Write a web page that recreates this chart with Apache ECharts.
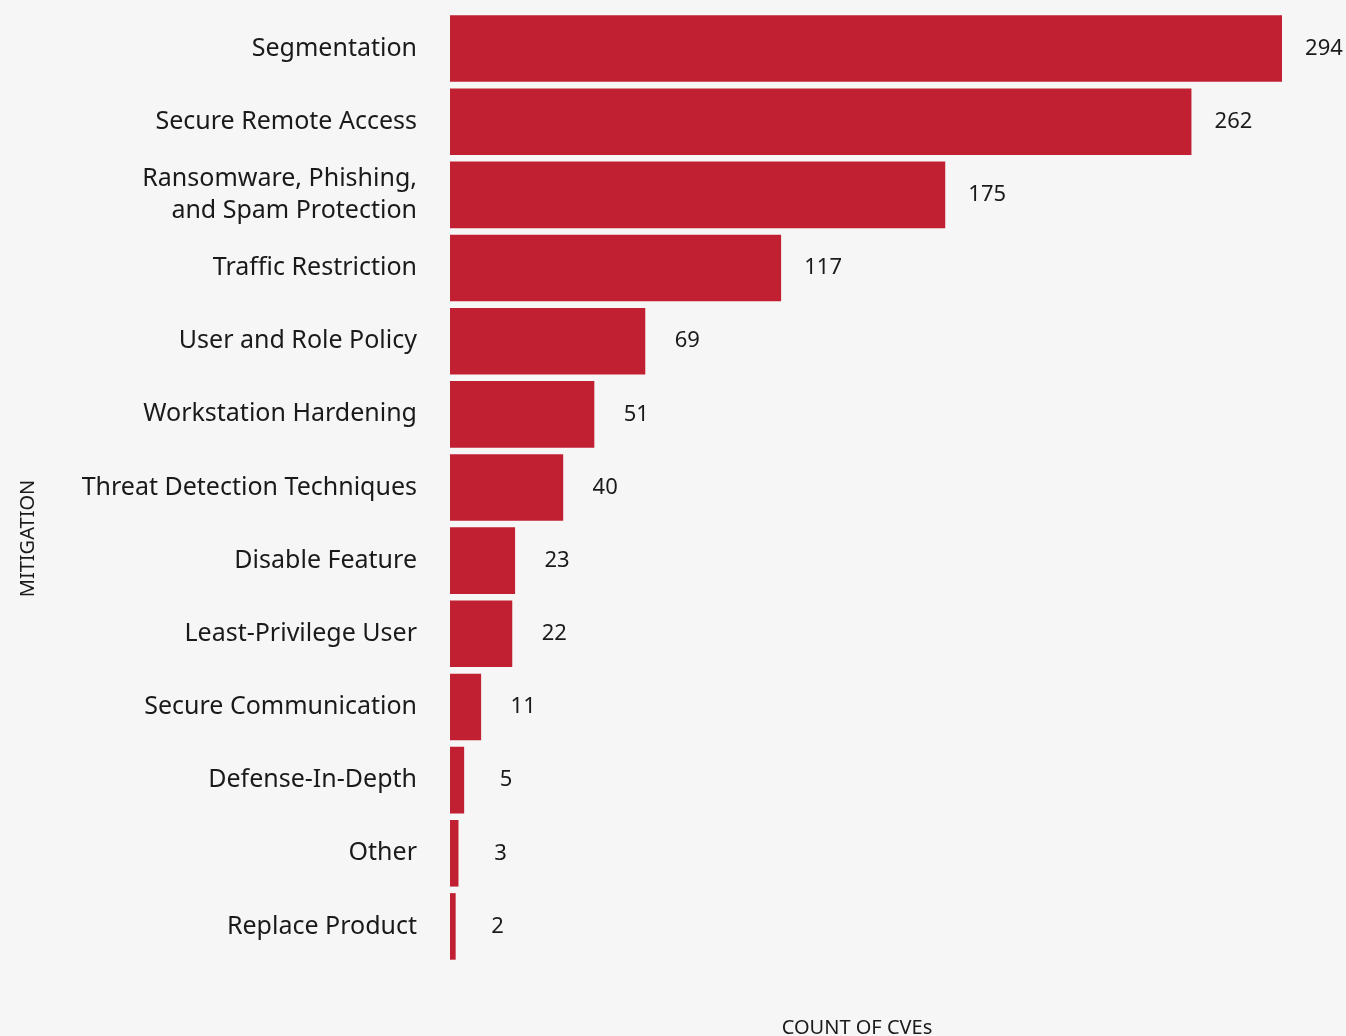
<!DOCTYPE html>
<html><head><meta charset="utf-8">
<script src="https://cdn.jsdelivr.net/npm/echarts@6/dist/echarts.min.js"></script>
<style>html,body{margin:0;padding:0;background:#f6f6f6;}#c{width:1346px;height:1036px;}</style>
</head><body><div id="c"></div>
<script>
const categories = ["Segmentation","Secure Remote Access","Ransomware, Phishing,\nand Spam Protection","Traffic Restriction","User and Role Policy","Workstation Hardening","Threat Detection Techniques","Disable Feature","Least-Privilege User","Secure Communication","Defense-In-Depth","Other","Replace Product"];
const counts = [294,262,175,117,69,51,40,23,22,11,5,3,2];
const yAxisName = "MITIGATION";
const xAxisName = "COUNT OF CVEs";

const chart = echarts.init(document.getElementById('c'));
const font = "'Noto Sans', sans-serif";
chart.setOption({
  backgroundColor: '#f6f6f6',
  animation: false,
  grid: {left: 450, right: 64, top: 12, bottom: 73, containLabel: false, outerBoundsMode: 'none'},
  xAxis: {
    type: 'value', min: 0, max: 294,
    show: true,
    axisLine: {show: false}, axisTick: {show: false}, axisLabel: {show: false}, splitLine: {show: false},
    name: xAxisName, nameLocation: 'middle', nameGap: 55,
    nameTextStyle: {fontFamily: font, fontSize: 20, color: '#1a1a1a', padding: [0, 18, 0, 0]}
  },
  yAxis: {
    type: 'category', data: categories, inverse: true,
    axisLine: {show: false}, axisTick: {show: false},
    axisLabel: {fontFamily: font, fontSize: 25, color: '#1a1a1a', margin: 33, lineHeight: 32, align: 'right', padding: [8, 0, 0, 0]},
    name: yAxisName, nameLocation: 'middle', nameGap: 412, nameRotate: 90,
    nameTextStyle: {fontFamily: font, fontSize: 20, color: '#1a1a1a', padding: [0, 102, 0, 0]}
  },
  series: [{
    type: 'bar', data: counts, barCategoryGap: '9%',
    itemStyle: {color: '#c12033'},
    label: {show: true, position: 'right', distance: 42, align: 'center',
      fontFamily: font, fontSize: 22, color: '#1a1a1a'}
  }]
});
</script></body></html>
